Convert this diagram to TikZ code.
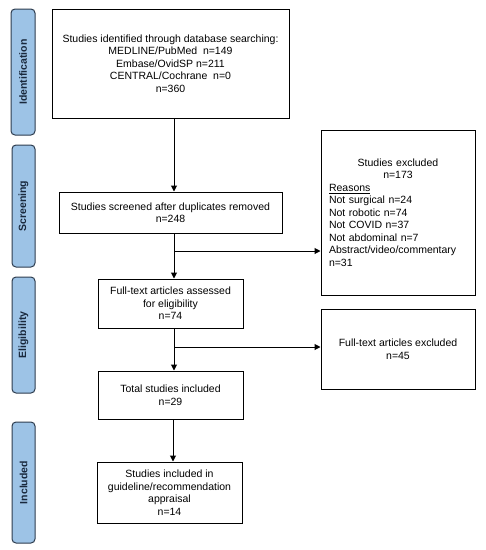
\documentclass[tikz,border=0pt]{standalone}
\usepackage{fontspec}
\setmainfont{Liberation Sans}
\usetikzlibrary{arrows.meta}
\definecolor{barfill}{RGB}{157,195,230}
\definecolor{barline}{RGB}{46,61,79}
\definecolor{bartext}{RGB}{25,40,60}
\tikzset{
  box/.style={draw=black, line width=1pt, align=center, inner sep=0pt,
    font=\fontsize{10.5}{12.5}\selectfont},
  bar/.style={draw=barline, fill=barfill, line width=1pt, rounded corners=4pt,
    rotate=90, inner sep=0pt, text=bartext,
    font=\fontsize{10.5}{12.5}\selectfont\bfseries},
  arr/.style={line width=1pt, -{Triangle[length=6pt,width=6pt]}},
  ln/.style={line width=1pt}
}
\begin{document}
\begin{tikzpicture}[x=1pt,y=-1pt]
\useasboundingbox[fill=white] (0,0) rectangle (486,550);
% phase bars
\node[bar, minimum width=126pt, minimum height=24pt] (pid) at (23,72) {Identification};
\node[bar, minimum width=122pt, minimum height=23pt] (psc) at (23.5,206) {Screening};
\node[bar, minimum width=116pt, minimum height=23pt] (pel) at (23.5,335) {Eligibility};
\node[bar, minimum width=121pt, minimum height=23pt] (pin) at (23.5,482.5) {Included};
% boxes
\node[box, minimum width=237pt, minimum height=109pt] (b1) at (170.5,63.5)
  {Studies identified through database searching:\\
   MEDLINE/PubMed\ \ n=149\\ Embase/OvidSP n=211\\ CENTRAL/Cochrane\ \ n=0\\ n=360};
\node[box, minimum width=223pt, minimum height=41pt] (b2) at (170.5,212.5)
  {Studies screened after duplicates removed\\ n=248};
\node[box, minimum width=145pt, minimum height=49pt] (b3) at (170.5,303.5)
  {Full-text articles assessed\\ for eligibility\\ n=74};
\node[box, minimum width=145pt, minimum height=48pt] (b4) at (170.5,395)
  {Total studies included\\ n=29};
\node[box, minimum width=145pt, minimum height=61pt] (b5) at (169.5,492.5)
  {Studies included in\\ guideline/recommendation\\ appraisal\\ n=14};
\node[box, minimum width=154pt, minimum height=165pt, text width=138pt, align=left] (e1) at (398,212.5)
  {{\centering Studies excluded\\ n=173\par}
   \underline{Reasons}\\ Not surgical n=24\\ Not robotic n=74\\ Not COVID n=37\\
   Not abdominal n=7\\ Abstract/video/commentary\\ n=31};
\node[box, minimum width=154pt, minimum height=80pt] (e2) at (398,349)
  {Full-text articles excluded\\ n=45};
% connectors
\coordinate (s1) at (174,0);
\coordinate (s2) at (173,0);
\coordinate (j1) at (174,251);
\coordinate (j2) at (174,347);
\draw[arr] (b1.south -| s1) -- (b2.north -| s1);
\draw[arr] (b2.south -| s1) -- (b3.north -| s1);
\draw[arr] (j1) -- (j1 -| e1.west);
\draw[arr] (b3.south -| s1) -- (b4.north -| s1);
\draw[arr] (j2) -- (j2 -| e2.west);
\draw[arr] (b4.south -| s2) -- (b5.north -| s2);
\end{tikzpicture}
\end{document}
